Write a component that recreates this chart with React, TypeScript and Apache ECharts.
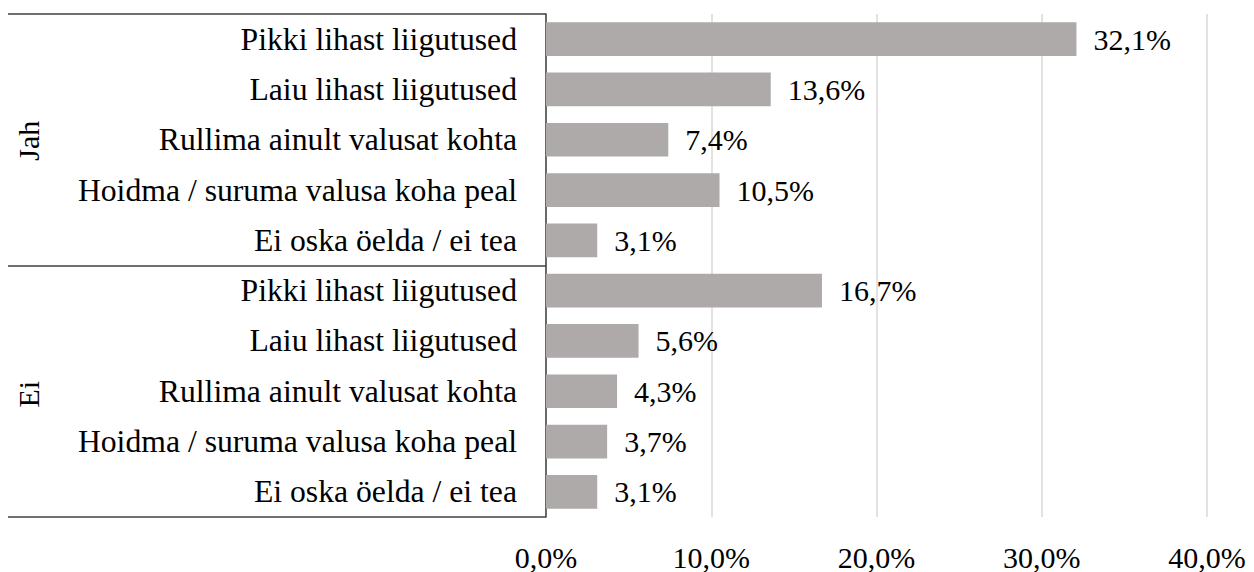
import React, { useEffect, useRef } from "react";
import * as echarts from "echarts";

const groups = ["Jah", "Ei"];
const subCategories = [
  "Pikki lihast liigutused",
  "Laiu lihast liigutused",
  "Rullima ainult valusat kohta",
  "Hoidma / suruma valusa koha peal",
  "Ei oska öelda / ei tea",
];
const jahValues = [32.1, 13.6, 7.4, 10.5, 3.1];
const eiValues = [16.7, 5.6, 4.3, 3.7, 3.1];
const xTicks = [0, 10, 20, 30, 40];

const W = 1254;
const H = 572;
const GRID = { left: 546, right: 47, top: 14, bottom: 51 };
const FONT = "'Liberation Serif', 'Times New Roman', serif";
const fmt = (v: number) => v.toFixed(1).replace(".", ",") + "%";

export default function App() {
  const ref = useRef<HTMLDivElement>(null);
  useEffect(() => {
    if (!ref.current) return;
    const chart = echarts.init(ref.current, undefined, { renderer: "svg" });
    const categories = [...subCategories, ...subCategories];
    const values = [...jahValues, ...eiValues];
    const plotH = H - GRID.top - GRID.bottom;
    chart.setOption({
      animation: false,
      backgroundColor: "#fff",
      grid: { ...GRID, containLabel: false },
      xAxis: {
        type: "value",
        min: xTicks[0],
        max: xTicks[xTicks.length - 1],
        interval: 10,
        axisLine: { show: false },
        axisTick: { show: false },
        splitLine: { lineStyle: { color: "#D9D9D9", width: 1.5 } },
        axisLabel: {
          formatter: (v: number) => fmt(v),
          fontFamily: FONT,
          fontSize: 30,
          color: "#000",
          margin: 25,
        },
      },
      yAxis: [
        {
          type: "category",
          data: categories,
          inverse: true,
          position: "left",
          axisLine: { show: true, lineStyle: { color: "#404040", width: 1.5 } },
          axisTick: { show: false },
          axisLabel: {
            fontFamily: FONT,
            fontSize: 31.7,
            color: "#000",
            margin: 29,
            interval: 0,
          },
        },
        {
          type: "category",
          data: groups,
          inverse: true,
          position: "left",
          axisLine: { show: false },
          axisTick: {
            show: true,
            length: GRID.left - 8,
            lineStyle: { color: "#404040", width: 1.5 },
          },
          axisLabel: { show: false },
        },
      ],
      series: [
        {
          type: "bar",
          yAxisIndex: 0,
          data: values,
          barCategoryGap: "33%",
          itemStyle: { color: "#AEAAAA" },
          label: {
            show: true,
            position: "right",
            distance: 17,
            formatter: (p: any) => fmt(p.value),
            fontFamily: FONT,
            fontSize: 30,
            color: "#000",
          },
        },
      ],
      graphic: groups.map((g, i) => ({
        type: "text",
        x: 28,
        y: GRID.top + (plotH * (i + 0.5)) / groups.length,
        rotation: Math.PI / 2,
        style: {
          text: g,
          align: "center",
          verticalAlign: "middle",
          fontFamily: FONT,
          fontSize: 30,
          fill: "#000",
        },
      })),
    });
    return () => chart.dispose();
  }, []);
  return (
    <div
      ref={ref}
      style={{ position: "fixed", left: 0, top: 0, width: W, height: H }}
    />
  );
}
